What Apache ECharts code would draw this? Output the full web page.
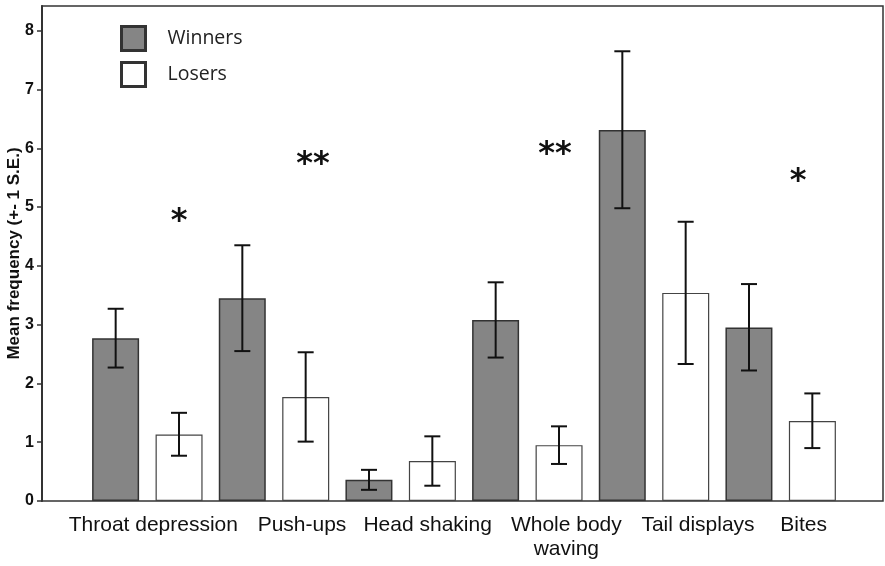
<!DOCTYPE html>
<html>
<head>
<meta charset="utf-8">
<script src="https://cdn.jsdelivr.net/npm/echarts@6/dist/echarts.min.js"></script>
<style>
html,body{margin:0;padding:0;background:#fff;}
#chart{width:885px;height:566px;}
</style>
</head>
<body>
<div id="chart"></div>
<script>
// ---- data ----
const categories = ["Throat depression", "Push-ups", "Head shaking", "Whole body\nwaving", "Tail displays", "Bites"];
const winnersMean = [2.77, 3.45, 0.36, 3.08, 6.31, 2.95];
const winnersLow  = [2.27, 2.55, 0.19, 2.44, 4.98, 2.22];
const winnersHigh = [3.27, 4.35, 0.53, 3.72, 7.65, 3.69];
const losersMean  = [1.13, 1.77, 0.68, 0.95, 3.54, 1.36];
const losersLow   = [0.77, 1.01, 0.26, 0.63, 2.33, 0.90];
const losersHigh  = [1.50, 2.53, 1.10, 1.27, 4.75, 1.83];
const yTicks = [0, 1, 2, 3, 4, 5, 6, 7, 8];
const significance = ["*", "**", "", "**", "", "*"];

const chart = echarts.init(document.getElementById('chart'), null, {renderer: 'canvas'});

function errorBars(sign) {
  return function (params, api) {
    const x = api.value(0);
    const lo = api.coord([x, api.value(1)]);
    const hi = api.coord([x, api.value(2)]);
    const bw = api.size([1, 0])[0];
    const cx = lo[0] + sign * bw / 4;
    const half = 8;
    const style = {stroke: '#111', lineWidth: 2};
    return {
      type: 'group',
      children: [
        {type: 'line', shape: {x1: cx, y1: lo[1], x2: cx, y2: hi[1]}, style: style},
        {type: 'line', shape: {x1: cx - half, y1: lo[1], x2: cx + half, y2: lo[1]}, style: style},
        {type: 'line', shape: {x1: cx - half, y1: hi[1], x2: cx + half, y2: hi[1]}, style: style}
      ]
    };
  };
}

// label shifts (style only): rich styles keyed by category index
const labelRich = {
  c0: {padding: [0, 0, 0, 12]},
  c1: {padding: [0, 0, 0, 56]},
  c2: {padding: [0, 0, 0, 54]},
  c3: {padding: [0, 0, 0, 78]},
  c4: {padding: [0, 0, 0, 88]},
  c5: {padding: [0, 0, 0, 46]}
};
Object.keys(labelRich).forEach(k => {
  Object.assign(labelRich[k], {fontFamily: 'Liberation Sans', fontSize: 21, color: '#111', lineHeight: 24});
});

// significance annotations positions (layout)
const sigPos = [[179, 222], [313, 165], null, [555, 155], null, [798, 182]];
const graphics = [];
significance.forEach((s, i) => {
  if (!s || !sigPos[i]) return;
  graphics.push({
    type: 'text', x: sigPos[i][0], y: sigPos[i][1],
    style: {text: s, font: 'bold 32px "DejaVu Sans"', fill: '#111', align: 'center', verticalAlign: 'middle'}
  });
});

const option = {
  animation: false,
  backgroundColor: '#fff',
  grid: [
    {left: 84, right: 41, top: 6, bottom: 65, containLabel: false, outerBoundsMode: 'none'},
    {left: 42, right: 2, top: 6, bottom: 65, show: true, borderColor: '#333', borderWidth: 1.5, backgroundColor: 'transparent', outerBoundsMode: 'none'}
  ],
  legend: {
    orient: 'vertical', left: 120, top: 25, padding: 0, itemWidth: 24, itemHeight: 24, itemGap: 9,
    textStyle: {fontFamily: 'Open Sans', fontSize: 19.5, color: '#222', padding: [0, 0, 0, 17]},
    data: [
      {name: 'Winners', icon: 'rect', itemStyle: {color: '#858585', borderColor: '#333', borderWidth: 3}},
      {name: 'Losers', icon: 'rect', itemStyle: {color: '#fff', borderColor: '#333', borderWidth: 3}}
    ]
  },
  xAxis: [
    {
      type: 'category', gridIndex: 0, data: categories,
      axisLine: {show: false}, axisTick: {show: false},
      axisLabel: {
        interval: 0, margin: 12,
        formatter: function (v, i) { return '{c' + i + '|' + v + '}'; },
        rich: labelRich
      }
    },
    {type: 'value', gridIndex: 1, show: false}
  ],
  yAxis: [
    {
      type: 'value', gridIndex: 0, min: 0, max: 8.42, interval: 1, offset: 42,
      name: 'Mean frequency (+- 1 S.E.)', nameLocation: 'middle', nameGap: 19, nameMoveOverlap: false,
      nameTextStyle: {fontFamily: 'Liberation Sans', fontWeight: 'bold', fontSize: 17, color: '#111'},
      axisLine: {show: true, lineStyle: {color: '#333', width: 2}},
      axisTick: {show: true, length: 5, customValues: yTicks, lineStyle: {color: '#333', width: 1.5}},
      splitLine: {show: false},
      axisLabel: {
        margin: 8, fontFamily: 'Liberation Sans', fontWeight: 'bold', fontSize: 16, color: '#111',
        customValues: yTicks,
        formatter: function (v) { return yTicks.indexOf(v) >= 0 ? String(v) : ''; }
      }
    },
    {type: 'value', gridIndex: 1, show: false}
  ],
  graphic: graphics,
  series: [
    {
      name: 'Winners', type: 'bar', xAxisIndex: 0, yAxisIndex: 0, data: winnersMean,
      barWidth: 47, barGap: '35%',
      itemStyle: {color: '#858585', borderColor: '#333', borderWidth: 1.5}
    },
    {
      name: 'Losers', type: 'bar', xAxisIndex: 0, yAxisIndex: 0, data: losersMean,
      barWidth: 47, barGap: '35%',
      itemStyle: {color: '#fff', borderColor: '#444', borderWidth: 1.2}
    },
    {
      name: 'Winners SE', type: 'custom', xAxisIndex: 0, yAxisIndex: 0, z: 5,
      renderItem: errorBars(-1),
      data: categories.map((c, i) => [i, winnersLow[i], winnersHigh[i]])
    },
    {
      name: 'Losers SE', type: 'custom', xAxisIndex: 0, yAxisIndex: 0, z: 5,
      renderItem: errorBars(1),
      data: categories.map((c, i) => [i, losersLow[i], losersHigh[i]])
    }
  ]
};
chart.setOption(option);
</script>
</body>
</html>
